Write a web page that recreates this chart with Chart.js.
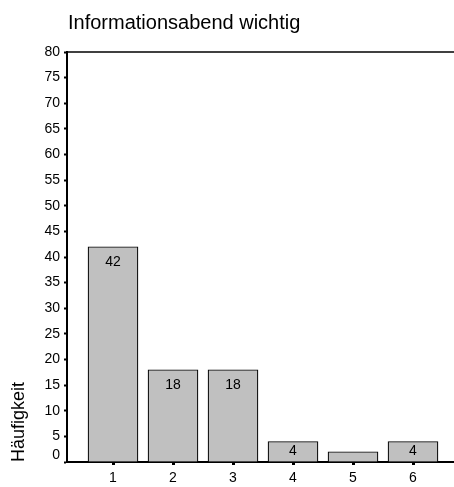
<!DOCTYPE html>
<html>
<head>
<meta charset="utf-8">
<script src="https://cdn.jsdelivr.net/npm/chart.js@4/dist/chart.umd.min.js"></script>
<style>
html,body{margin:0;padding:0;background:#fff;}
#wrap{width:454px;height:487px;position:relative;}
</style>
</head>
<body>
<div id="wrap"><canvas id="c" width="454" height="487"></canvas></div>
<script>
const chartTitle = 'Informationsabend wichtig';
const yAxisTitle = 'Häufigkeit';
const categories = ['1', '2', '3', '4', '5', '6'];
const values = [42, 18, 18, 4, 2, 4];
const yTicks = [0, 5, 10, 15, 20, 25, 30, 35, 40, 45, 50, 55, 60, 65, 70, 75, 80];

const FONT = "'Liberation Sans', Arial, sans-serif";

const extras = {
  id: 'extras',
  afterDraw(chart) {
    const ctx = chart.ctx;
    const area = chart.chartArea;
    const y = chart.scales.y;
    ctx.save();
    // top frame line
    ctx.strokeStyle = '#000';
    ctx.lineWidth = 1.5;
    ctx.beginPath();
    ctx.moveTo(area.left, area.top);
    ctx.lineTo(chart.width, area.top);
    ctx.stroke();
    // title
    ctx.fillStyle = '#000';
    ctx.font = '20px ' + FONT;
    ctx.textAlign = 'left';
    ctx.textBaseline = 'alphabetic';
    ctx.fillText(chartTitle, area.left + 1, 29);
    // shifted zero label
    ctx.font = '14px ' + FONT;
    ctx.textAlign = 'right';
    ctx.textBaseline = 'middle';
    ctx.fillText(String(yTicks[0]), area.left - 7, y.getPixelForValue(yTicks[0]) - 7);
    // bar value labels
    const meta = chart.getDatasetMeta(0);
    ctx.textAlign = 'center';
    meta.data.forEach((bar, i) => {
      const h = bar.base - bar.y;
      if (h < 15) return;
      const cy = Math.min(bar.y + 15, (bar.y + bar.base) / 2);
      ctx.fillText(String(values[i]), bar.x, cy);
    });
    ctx.restore();
  }
};

new Chart(document.getElementById('c'), {
  type: 'bar',
  data: {
    datasets: [{
      data: categories.map((c, i) => ({ x: Number(c), y: values[i] })),
      backgroundColor: '#c0c0c0',
      borderColor: '#000',
      borderWidth: 1.2,
      barThickness: 50
    }]
  },
  options: {
    responsive: false,
    animation: false,
    layout: { padding: { top: 52, right: 0, bottom: 0, left: 0 } },
    plugins: { legend: { display: false }, tooltip: { enabled: false }, title: { display: false } },
    scales: {
      x: {
        type: 'linear',
        offset: false,
        min: 0.2333,
        max: 6.6833,
        afterBuildTicks: s => { s.ticks = categories.map(c => ({ value: Number(c) })); },
        afterFit: s => { s.height = 25; },
        ticks: {
          color: '#000',
          font: { family: FONT, size: 14 },
          padding: 5,
          callback: v => categories[v - 1] ?? ''
        },
        grid: { display: true, offset: false, drawOnChartArea: false, drawTicks: true, tickLength: 3, tickWidth: 3, tickColor: '#000' },
        border: { display: true, color: '#000', width: 2 }
      },
      y: {
        min: 0,
        max: 80,
        afterBuildTicks: s => { s.ticks = yTicks.map(v => ({ value: v })); },
        afterFit: s => { s.width = 67; },
        ticks: {
          color: c => (c.tick && c.tick.value === 0) ? 'rgba(0,0,0,0)' : '#000',
          font: { family: FONT, size: 14 },
          padding: 4
        },
        grid: { display: true, drawOnChartArea: false, drawTicks: true, tickLength: 3, tickWidth: 2, tickColor: '#000' },
        border: { display: true, color: '#000', width: 2 },
        title: {
          display: true,
          text: yAxisTitle,
          align: 'start',
          color: '#000',
          font: { family: FONT, size: 18 },
          padding: { top: 8, bottom: 0 }
        }
      }
    }
  },
  plugins: [extras]
});
</script>
</body>
</html>
